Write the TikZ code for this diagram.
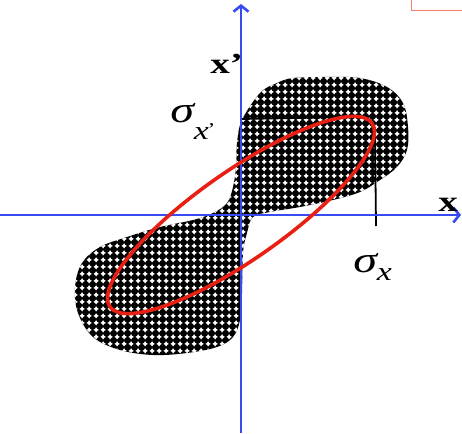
\documentclass[tikz,border=0pt]{standalone}
\usepackage{fontspec}
\setmainfont{Liberation Serif}
\usetikzlibrary{arrows.meta,patterns}
\definecolor{axblue}{RGB}{55,75,240}
\definecolor{beamred}{RGB}{232,32,20}
\definecolor{boxred}{RGB}{245,125,105}
\pgfdeclarepatternformonly{starholes}{\pgfqpoint{0pt}{0pt}}{\pgfqpoint{6.6pt}{6.6pt}}{\pgfqpoint{6.6pt}{6.6pt}}{
  \pgfpathmoveto{\pgfqpoint{3.3pt}{6.2pt}}
  \pgfpathlineto{\pgfqpoint{4.4pt}{4.4pt}}
  \pgfpathlineto{\pgfqpoint{6.2pt}{3.3pt}}
  \pgfpathlineto{\pgfqpoint{4.4pt}{2.2pt}}
  \pgfpathlineto{\pgfqpoint{3.3pt}{0.4pt}}
  \pgfpathlineto{\pgfqpoint{2.2pt}{2.2pt}}
  \pgfpathlineto{\pgfqpoint{0.4pt}{3.3pt}}
  \pgfpathlineto{\pgfqpoint{2.2pt}{4.4pt}}
  \pgfpathclose\pgfusepath{fill}}
\begin{document}
\begin{tikzpicture}[x=1pt,y=1pt,
  ax/.style={axblue,line width=1.3pt,-{Straight Barb[length=6pt,width=15pt,line width=2.6pt]}},
  beam/.style={beamred,line width=3.6pt},
  tick/.style={black,line width=1.8pt},
  blob/.style={fill=black,postaction={pattern=starholes,pattern color=white}},
  lbl/.style={font=\fontsize{29}{29}\selectfont\bfseries,xscale=1.35,inner sep=0pt},
  sg/.style={font=\fontsize{37}{37}\selectfont\itshape,xscale=1.3,inner sep=0pt}]
\useasboundingbox (-241,-218) rectangle (221,215);
\begin{scope}
\clip (-241,-218) rectangle (221,215);
\draw[boxred,line width=1pt] (170,204) rectangle (240,230);
\end{scope}
% phase-space area
\path[blob] plot[smooth cycle,tension=0.6] coordinates {
  (1,95) (19,122) (36,132) (52,137) (86,138) (119,137) (146,128) (162,112)
  (167,88) (166,65) (156,48) (139,35) (119,23) (92,15) (59,8) (29,3) (12,-2)
  (6,-18) (2,-38) (1,-78) (-1,-105) (-8,-122) (-24,-132) (-54,-138) (-88,-140)
  (-121,-135) (-148,-122) (-163,-98) (-166,-72) (-159,-48) (-141,-32) (-114,-22)
  (-81,-12) (-48,-5) (-28,2) (-14,12) (-8,28) (-5,48) (-4,72)};
% ellipse extremes
\coordinate (O) at (0,0);
\coordinate (etop) at (113,98);
\coordinate (ergt) at (134,83);
\coordinate (sxp) at (0,96);
\coordinate (sx) at (135,-11);
\draw[tick] (sxp) -- (etop);
\draw[tick] (ergt) -- (sx);
% axes
\coordinate (xl) at (-241,0);
\coordinate (xr) at (220,0);
\coordinate (yb) at (0,-218);
\coordinate (yt) at (0,211);
\draw[ax] (xl) -- (xr);
\draw[ax] (yb) -- (yt);
\draw[beam,rotate=35] (O) ellipse [x radius=160, y radius=44];
% labels
\node[lbl,anchor=base west] (lxp) at (-31,141) {x’};
\node[lbl,anchor=base west] (lx) at (197,3) {x};
\node[sg,anchor=base west] (lsxp) at (-71,92) {σ\raisebox{-17pt}{\fontsize{26}{26}\selectfont x\kern-1pt\raisebox{4pt}{\fontsize{18}{18}\selectfont\upshape'}}};
\node[sg,anchor=base west] (lsx) at (112,-57) {σ\raisebox{-8pt}{\fontsize{26}{26}\selectfont x}};
\end{tikzpicture}
\end{document}
